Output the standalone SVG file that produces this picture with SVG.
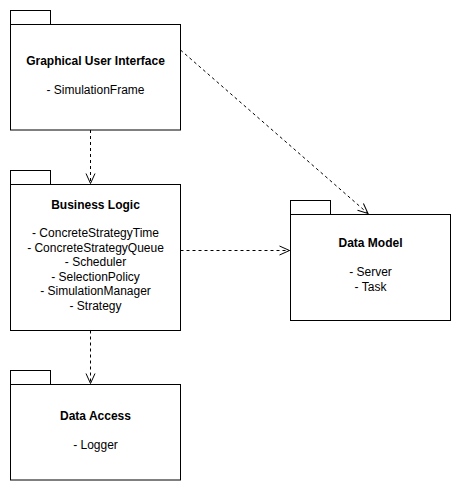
<svg xmlns="http://www.w3.org/2000/svg" width="461" height="491" viewBox="0 0 461 491">
<defs>
<style>
.box{fill:#fff;stroke:#000;stroke-width:1}
.t{font-family:"Liberation Sans",Arial,sans-serif;font-size:12px;fill:#000;text-anchor:middle}
.b{font-weight:bold}
.c{fill:none;stroke:#000;stroke-width:1;stroke-dasharray:3 3}
</style>
<marker id="arr" markerWidth="14" markerHeight="14" refX="11" refY="6" orient="auto" markerUnits="userSpaceOnUse">
<path d="M1,1.5 L11,6 L1,10.5" fill="none" stroke="#000" stroke-width="1"/>
</marker>
</defs>
<rect width="461" height="491" fill="#fff"/>
<g id="gui">
<rect class="box" x="10.5" y="10.5" width="40" height="14"/>
<rect class="box" x="10.5" y="24.5" width="170" height="105.5"/>
<text class="t b" x="95.5" y="65">Graphical User Interface</text>
<text class="t" x="95.5" y="94">- SimulationFrame</text>
</g>
<g id="business">
<rect class="box" x="10.5" y="170.5" width="40" height="14"/>
<rect class="box" x="10.5" y="184.5" width="170" height="146"/>
<text class="t b" x="95.5" y="209">Business Logic</text>
<text class="t" x="95.5" y="237">- ConcreteStrategyTime</text>
<text class="t" x="95.5" y="251.5">- ConcreteStrategyQueue</text>
<text class="t" x="95.5" y="266">- Scheduler</text>
<text class="t" x="95.5" y="280.5">- SelectionPolicy</text>
<text class="t" x="95.5" y="295">- SimulationManager</text>
<text class="t" x="95.5" y="309.5">- Strategy</text>
</g>
<g id="datamodel">
<rect class="box" x="290.5" y="200.5" width="40" height="14"/>
<rect class="box" x="290.5" y="214.5" width="160" height="106"/>
<text class="t b" x="370.5" y="247">Data Model</text>
<text class="t" x="370.5" y="276">- Server</text>
<text class="t" x="370.5" y="290.5">- Task</text>
</g>
<g id="dataaccess">
<rect class="box" x="10.5" y="370.5" width="40" height="14"/>
<rect class="box" x="10.5" y="384.5" width="170" height="95.5"/>
<text class="t b" x="95.5" y="420">Data Access</text>
<text class="t" x="95.5" y="449">- Logger</text>
</g>
<g id="connectors">
<line class="c" x1="90.5" y1="130" x2="90.5" y2="183.5" marker-end="url(#arr)"/>
<line class="c" x1="180.5" y1="50" x2="368" y2="213.5" marker-end="url(#arr)"/>
<line class="c" x1="180.5" y1="250.5" x2="289.5" y2="250.5" marker-end="url(#arr)"/>
<line class="c" x1="90.5" y1="330.5" x2="90.5" y2="383.5" marker-end="url(#arr)"/>
</g>
</svg>
